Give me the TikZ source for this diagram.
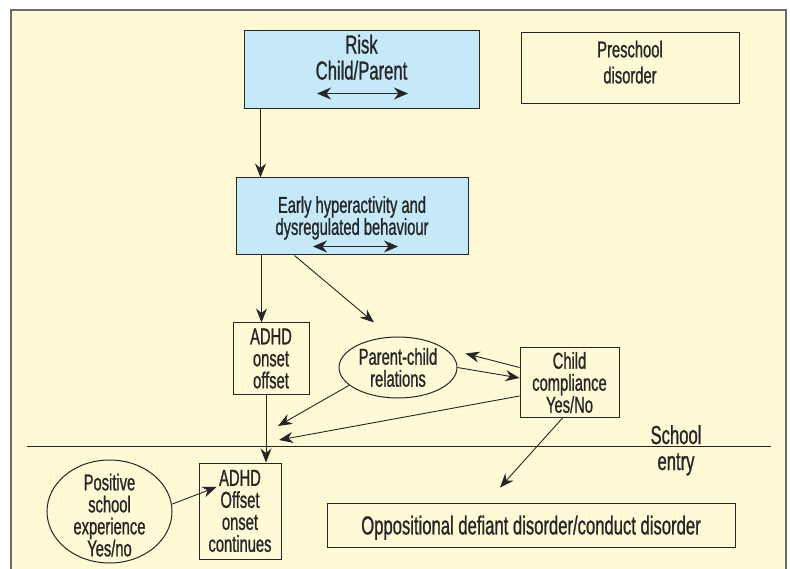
\documentclass[tikz,border=0pt]{standalone}
\usepackage{fontspec}
\setmainfont{Liberation Sans}[FakeStretch=0.64, FakeBold=0.9]
\usetikzlibrary{arrows.meta,shapes.geometric}
\definecolor{paper}{HTML}{FFF9D6}
\definecolor{riskblue}{HTML}{C6E9F9}
\definecolor{ink}{HTML}{262626}
\definecolor{framegray}{HTML}{6B6B6B}

\begin{document}
\begin{tikzpicture}[x=1pt, y=-1pt,
    txt/.style={font=\fontsize{23}{22}\selectfont, text=ink, align=center, inner sep=0pt},
    bigtxt/.style={txt, font=\fontsize{26}{26}\selectfont},
    box/.style={txt, draw=ink, line width=1pt, rectangle},
    bluebox/.style={box, fill=riskblue},
    oval/.style={txt, draw=ink, line width=1pt, ellipse},
    arr/.style={draw=ink, line width=0.9pt, -{Stealth[length=14pt,width=11pt,inset=4.5pt]}},
    dbl/.style={draw=ink, line width=1.2pt, {Stealth[length=14pt,width=12pt,inset=4.5pt]}-{Stealth[length=14pt,width=12pt,inset=4.5pt]}}]
    \useasboundingbox (0,0) rectangle (790,569);
    \fill[paper] (11,10) rectangle (786,569);
    \draw[framegray, line width=1.4pt] (11,569) -- (11,10) -- (786,10) -- (786,569);

    % preschool part
    \node[bluebox, minimum width=235, minimum height=78] (risk) at (361.5,70) {};
    \node[bigtxt, anchor=north] (risktext) at (361.5,34.5) {Risk\\Child/Parent};
    \node[box, minimum width=218, minimum height=71] (pre) at (630,68.5) {};
    \node[txt, anchor=north] (pretext) at (630,40.5) {Preschool\\[4pt]disorder};
    \node[bluebox, minimum width=232, minimum height=77] (early) at (352,216.5) {};
    \node[txt, anchor=north] (earlytext) at (352,196) {Early hyperactivity and\\dysregulated behaviour};

    \draw[dbl] ([xshift=-44.5pt,yshift=16pt]risk.south) -- ([xshift=46.5pt,yshift=16pt]risk.south);
    \draw[dbl] ([xshift=-39pt,yshift=9pt]early.south) -- ([xshift=46pt,yshift=9pt]early.south);

    \node[box, minimum width=76, minimum height=71] (adhd) at (271,358.5) {ADHD\\onset\\offset};
    \node[oval, minimum width=118, minimum height=61] (pc) at (398,367.5) {Parent-child\\relations};
    \node[box, minimum width=99, minimum height=69] (comp) at (569.5,382.5) {Child\\compliance\\Yes/No};

    \coordinate (mid1) at (278,426);
    \coordinate (mid2) at (279,440);

    \draw[arr] ([xshift=17pt]risk.south west) -- ([xshift=17pt]risk.south west |- early.north);
    \draw[arr] ([xshift=26pt]early.south west) -- ([xshift=26pt]early.south west |- adhd.north);
    \draw[arr] ([xshift=59pt]early.south west) -- ([xshift=-24pt,yshift=14pt]pc.north);
    \draw[arr] ([yshift=15pt]comp.west) -- ([xshift=8pt,yshift=14pt]pc.east);
    \draw[arr] (pc.east) -- ([yshift=4.5pt]comp.west);
    \draw[arr] (pc.200) -- (mid1);
    \draw[arr] ([yshift=-13.5pt]comp.west) -- (mid2);

    % school entry
    \draw[ink, line width=1pt] (27,446) -- (771,446);
    \node[bigtxt, anchor=base] (school) at (676,444) {School};
    \node[bigtxt, anchor=base] (entry) at (676,470) {entry};

    \node[box, minimum width=82, minimum height=96] (adhdtwo) at (240,511) {ADHD\\Offset\\onset\\continues};
    \node[oval, minimum width=125, minimum height=103, inner ysep=-12pt] (pos) at (109.5,511.5) {};
    \node[txt, anchor=north] (postext) at (109.5,473.5) {Positive\\school\\experience\\Yes/no};
    \node[box, minimum width=408, minimum height=44, font=\fontsize{26}{26}\selectfont, text depth=0pt] (odd) at (531,525) {Oppositional defiant disorder/conduct disorder};

    \draw[arr] ([xshift=-5pt]adhd.south) -- ([xshift=-5pt]adhd.south |- adhdtwo.north);
    \draw[arr] ([yshift=7.5pt]pos.east) -- ([xshift=18pt,yshift=24pt]adhdtwo.west);
    \draw[arr] ([xshift=-6.5pt]comp.south) -- ([xshift=-31pt,yshift=15pt]odd.north);
\end{tikzpicture}
\end{document}
